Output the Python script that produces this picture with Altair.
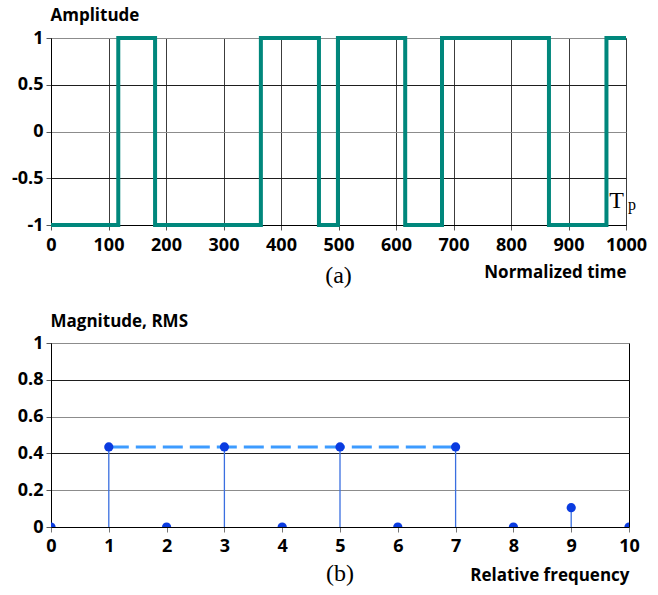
import altair as alt
import pandas as pd

# ---- panel (a): binary phase code, amplitude vs normalized time
time_edges = [0, 117, 181, 365, 466, 499, 616, 680, 866, 966, 1000]
amplitude = [-1, 1, -1, 1, -1, 1, -1, 1, -1, 1, 1]
time_ticks = [0, 100, 200, 300, 400, 500, 600, 700, 800, 900, 1000]
amp_ticks = [-1, -0.5, 0, 0.5, 1]

# ---- panel (b): spectrum magnitude (RMS)
rel_freq = [0, 1, 2, 3, 4, 5, 6, 7, 8, 9, 10]
magnitude = [0, 0.435, 0, 0.435, 0, 0.435, 0, 0.435, 0, 0.105, 0]
dash_freq = [1, 7]
dash_mag = [0.435, 0.435]
mag_ticks = [0, 0.2, 0.4, 0.6, 0.8, 1]

# annotation "Tp"
tp_x = [1000]
tp_y = [-0.82]

FONT = "Open Sans"
SERIF = "Liberation Serif"

sig = pd.DataFrame({"t": time_edges, "a": amplitude})
spec = pd.DataFrame({"f": rel_freq, "m": magnitude})
dash = pd.DataFrame({"f": dash_freq, "m": dash_mag})
tp = pd.DataFrame({"t": tp_x, "a": tp_y})

xa = alt.X("t:Q", scale=alt.Scale(domain=[0, 1000], nice=False),
           axis=alt.Axis(values=time_ticks, title="Normalized time", grid=True,
                         gridColor="#3c3c3c", gridOpacity=1, tickColor="#555",
                         tickSize=5, labelPadding=6, domainColor="black",
                         labelExpr="'' + datum.value", labelOverlap=False, labelFlush=False,
                         titleX=575, titleY=52, titleAlign="right", titleAnchor="end",
                         titleBaseline="alphabetic"))
ya = alt.Y("a:Q", scale=alt.Scale(domain=[-1, 1], nice=False),
           axis=alt.Axis(values=amp_ticks, title="Amplitude", grid=True,
                         gridColor={"condition": {"test": "datum.value == 0 || datum.value == 1",
                                                  "value": "#8c8c8c"}, "value": "#1e1e1e"},
                         gridOpacity=1, tickColor="#555", tickSize=5, labelPadding=3,
                         labelExpr="'' + datum.value", labelOverlap=False, labelFlush=False,
                         domainColor="black",
                         titleAngle=0, titleX=-1, titleY=-18, titleAlign="left",
                         titleAnchor="start", titleBaseline="alphabetic"))

line = alt.Chart(sig).mark_line(interpolate="step-after", color="#00877c",
                                strokeWidth=4, strokeJoin="miter").encode(x=xa, y=ya)
t_big = alt.Chart(tp).mark_text(text="T", font=SERIF, fontSize=24, align="right",
                                baseline="alphabetic", dx=-2, color="black").encode(x="t:Q", y="a:Q")
t_sub = alt.Chart(tp).mark_text(text="p", font=SERIF, fontSize=16, align="left",
                                baseline="alphabetic", dx=2, dy=2, color="black").encode(x="t:Q", y="a:Q")

top = alt.layer(line, t_big, t_sub).properties(
    width=575, height=187,
    title=alt.TitleParams(text="(a)", orient="bottom", anchor="middle", font=SERIF,
                          fontSize=24, fontWeight="normal", offset=-16, color="black"))

xb = alt.X("f:Q", scale=alt.Scale(domain=[0, 10], nice=False),
           axis=alt.Axis(values=rel_freq, title="Relative frequency", grid=False,
                         tickColor="#777", tickSize=5, labelPadding=5, domainColor="black",
                         labelOverlap=False, labelFlush=False,
                         titleX=578, titleY=53, titleAlign="right", titleAnchor="end",
                         titleBaseline="alphabetic"))
yb = alt.Y("m:Q", scale=alt.Scale(domain=[0, 1], nice=False),
           axis=alt.Axis(values=mag_ticks, title="Magnitude, RMS", grid=True,
                         gridColor={"condition": {"test": "abs(datum.value - 0.4) < 0.01 || abs(datum.value - 0.8) < 0.01",
                                                  "value": "#1e1e1e"}, "value": "#8c8c8c"},
                         gridOpacity=1, tickColor="#555", tickSize=5, labelPadding=3,
                         labelExpr="'' + datum.value", labelOverlap=False, labelFlush=False,
                         domainColor="black",
                         titleAngle=0, titleX=-1, titleY=-17, titleAlign="left",
                         titleAnchor="start", titleBaseline="alphabetic"))

dashed = alt.Chart(dash).mark_line(color="#3d9bff", strokeWidth=3,
                                   strokeDash=[20, 7]).encode(x=xb, y=yb)
stems = alt.Chart(spec).mark_rule(color="#3a6fe0", strokeWidth=1.3).encode(
    x=xb, y=yb, y2=alt.datum(0))
dots = alt.Chart(spec).mark_circle(color="#0a3be0", size=85, opacity=1, clip=True).encode(x=xb, y=yb)

bottom = alt.layer(dashed, stems, dots).properties(
    width=578, height=184,
    title=alt.TitleParams(text="(b)", orient="bottom", anchor="middle", font=SERIF,
                          fontSize=24, fontWeight="normal", offset=-21, color="black"))

chart = alt.vconcat(top, bottom, spacing=118, bounds="flush").properties(
    padding={"left": 10, "top": 5, "right": 5, "bottom": 5}
).configure_axis(
    labelFont=FONT, labelFontSize=18, labelFontWeight="bold", labelColor="black",
    titleFont=FONT, titleFontSize=17, titleFontWeight="bold", titleColor="black",
    gridWidth=1
).configure_view(stroke="black", strokeWidth=1)

chart.save("out.html", embed_options={"renderer": "svg", "actions": False})
